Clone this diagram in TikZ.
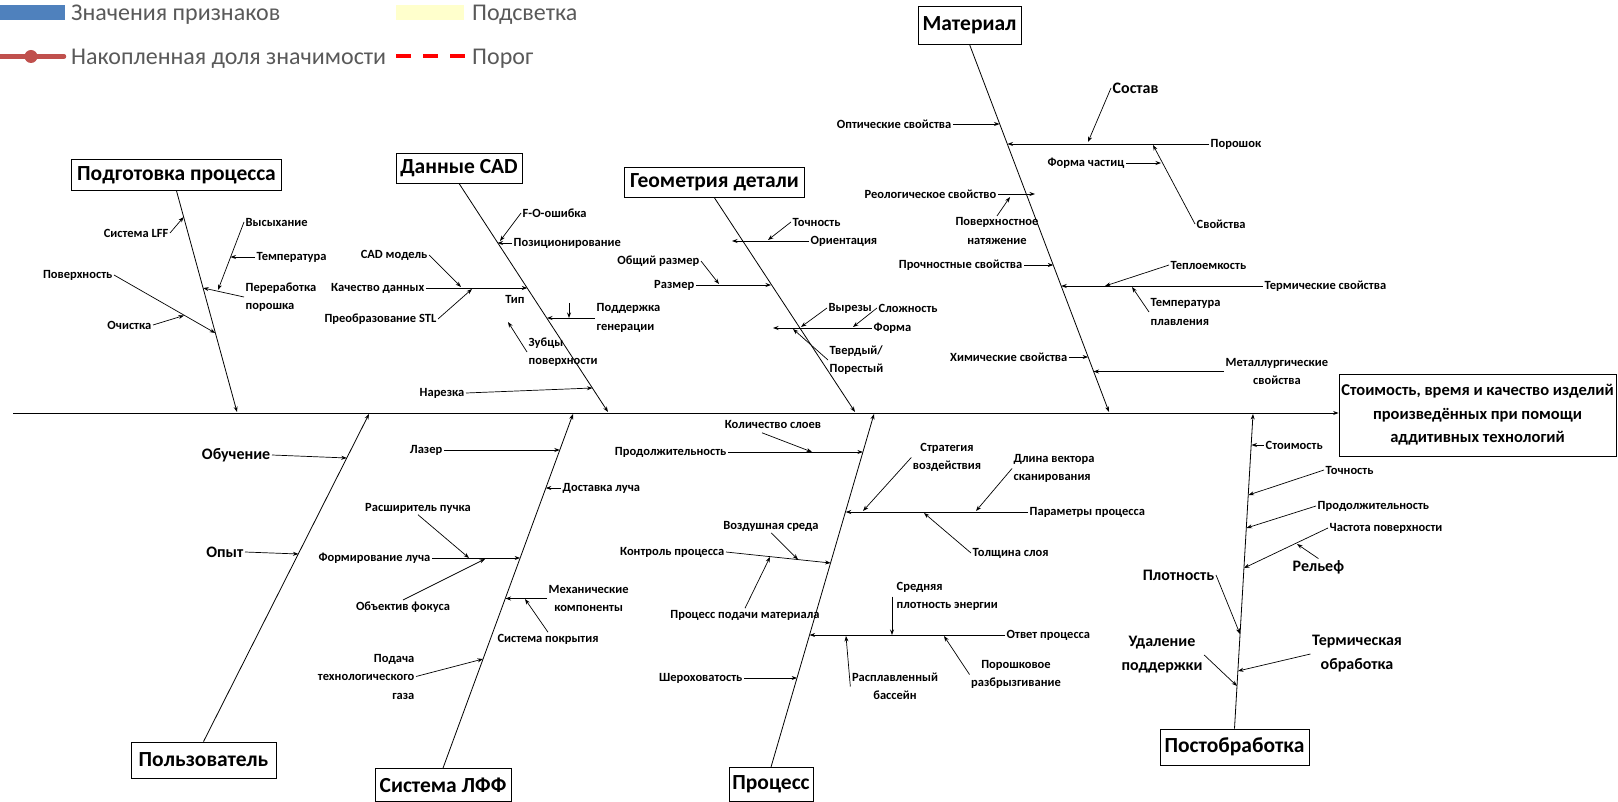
\documentclass[tikz,border=0pt]{standalone}
\usepackage{fontspec}
\setmainfont{Carlito}
\usetikzlibrary{arrows.meta,calc}
\definecolor{leggray}{RGB}{89,89,89}
\definecolor{legblue}{RGB}{79,129,189}
\definecolor{legyellow}{RGB}{255,255,204}
\definecolor{legred}{RGB}{192,80,77}
\definecolor{thrred}{RGB}{255,0,0}
\tikzset{
 lb/.style={font=\bfseries\fontsize{12.5}{18.5}\selectfont, inner sep=1.5pt, align=center},
 bg/.style={font=\bfseries\fontsize{16}{24}\selectfont, inner sep=1.5pt, align=center},
 cat/.style={draw, line width=0.8pt, font=\bfseries\fontsize{21.5}{25}\selectfont, inner sep=0pt},
 leg/.style={font=\fontsize{24}{28}\selectfont, text=leggray, inner sep=0pt},
 ar/.style={line width=0.7pt, -{Stealth[length=5.5pt,width=4pt]}},
 bone/.style={line width=0.8pt, -{Stealth[length=5.5pt,width=4pt]}},
}
\begin{document}
\begin{tikzpicture}[x=1pt,y=-1pt]
\useasboundingbox (0,0) rectangle (1618,802);
% legend
\fill[legblue] (0,5) rectangle (65,20);
\node[leg, anchor=west] (lg1) at (71,15) {Значения признаков};
\fill[legyellow] (396,5) rectangle (464,20);
\node[leg, anchor=west] (lg2) at (472,15) {Подсветка};
\draw[legred, line width=4.5pt, line cap=round] (0,56.5) -- (64,56.5);
\fill[legred] (31,56.5) circle (6.5);
\node[leg, anchor=west] (lg3) at (71,59) {Накопленная доля значимости};
\draw[thrred, line width=4pt, dash pattern=on 14.5pt off 12.5pt] (396,56.5) -- (465,56.5);
\node[leg, anchor=west] (lg4) at (472,59) {Порог};

% result and spine
\node[cat, minimum width=277, minimum height=82, align=center, font=\bfseries\fontsize{16.5}{23.5}\selectfont] (res) at (1477.5,415) {Стоимость, время и качество изделий\\произведённых при помощи\\аддитивных технологий};
\coordinate (sp0) at (13,413);
\draw[bone, line width=1pt] (sp0) -- (sp0 -| res.west);

% ---------- Подготовка процесса
\node[cat, minimum width=210, minimum height=31] (prep) at (176.5,175) {Подготовка процесса};
\coordinate (prepT) at (237,412);
\draw[bone] (prep.south) -- (prepT);
\node[lb, anchor=east] (lff) at (170,233) {Система LFF};
\draw[ar] (lff.east) -- (183.7,217);
\node[lb, anchor=west] (vys) at (244,222) {Высыхание};
\draw[ar] (vys.west) -- (218,290);
\node[lb, anchor=west] (temp) at (255,257) {Температура};
\draw[ar] (temp.west) -- (230.5,257);
\node[lb, anchor=west, align=left] (pere) at (244,297) {Переработка\\порошка};
\draw[ar] (pere.west) -- (203.2,288);
\node[lb, anchor=east] (pov) at (114,275) {Поверхность};
\draw[ar] (pov.east) -- (215.2,333);
\node[lb, anchor=east] (och) at (153,325) {Очистка};
\draw[ar] (och.east) -- (184,315.5);

% ---------- Данные CAD
\node[cat, minimum width=126, minimum height=30] (cad) at (459,168) {Данные CAD};
\coordinate (cadT) at (608,412);
\draw[bone] (cad.south) -- (cadT);
\node[lb, anchor=west] (fo) at (521,213) {F-O-ошибка};
\draw[ar] (fo.west) -- (500,241);
\node[lb, anchor=west] (posi) at (512,243) {Позиционирование};
\draw[ar] (posi.west) -- (497.5,243);
\node[lb, anchor=east] (cadm) at (429,255) {CAD модель};
\draw[ar] (cadm.east) -- (461,287);
\node[lb, anchor=east] (kach) at (426,288) {Качество данных};
\draw[ar] (kach.east) -- (527.3,288);
\node[lb] (tip) at (515,299) {Тип};
\node[lb, anchor=east] (stl) at (438,319) {Преобразование STL};
\draw[ar] (stl.east) -- (472,289);
\node[lb, anchor=west, align=left] (podd) at (595,318) {Поддержка\\генерации};
\draw[ar] (podd.west) -- (547,318);
\coordinate (podv) at (569,303);
\draw[ar] (podv) -- (podv |- podd.west);
\node[lb, anchor=west, align=left] (zub) at (527,352) {Зубцы\\поверхности};
\draw[ar] (zub.west) -- (508,322);
\node[lb, anchor=east] (nar) at (466,393) {Нарезка};
\draw[ar] (nar.east) -- (592.4,388);

% ---------- Геометрия детали
\node[cat, minimum width=180, minimum height=30] (geo) at (714.5,182.5) {Геометрия детали};
\coordinate (geoT) at (855,412);
\draw[bone] (geo.south) -- (geoT);
\node[lb, anchor=west] (toch) at (791,222) {Точность};
\draw[ar] (toch.west) -- (768,240);
\node[lb, anchor=west] (ori) at (809,241) {Ориентация};
\draw[ar] (ori.west) -- (732,241);
\node[lb, anchor=east] (obsh) at (701,261) {Общий размер};
\draw[ar] (obsh.east) -- (719,284);
\node[lb, anchor=east] (razm) at (696,285) {Размер};
\draw[ar] (razm.east) -- (771,285);
\node[lb, anchor=west] (vyr) at (827,308) {Вырезы};
\draw[ar] (vyr.west) -- (801,327);
\node[lb, anchor=west] (slo) at (877,308) {Сложность};
\draw[ar] (slo.west) -- (853,327);
\node[lb, anchor=west] (form) at (872,328) {Форма};
\draw[ar] (form.west) -- (773,328);
\node[lb, anchor=west, align=left] (tv) at (828,360) {Твердый/\\Порестый};
\draw[ar] (tv.west) -- (793,329);

% ---------- Материал
\node[cat, minimum width=103, minimum height=38] (mat) at (969.5,25) {Материал};
\coordinate (matT) at (1109,412);
\draw[bone] (mat.south) -- (matT);
\node[lb, anchor=east] (opt) at (953,124) {Оптические свойства};
\draw[ar] (opt.east) -- (999.5,124);
\node[bg, anchor=west] (sost) at (1111,88) {Состав};
\draw[ar] (sost.west) -- (1088,142);
\node[lb, anchor=west] (poro) at (1209,144) {Порошок};
\draw[ar] (poro.west) -- (1007.5,144);
\node[lb, anchor=east] (fch) at (1126,163) {Форма частиц};
\draw[ar] (fch.east) -- (1161,163);
\node[lb, anchor=west] (svo) at (1195,224) {Свойства};
\draw[ar] (svo.west) -- (1153,145);
\node[lb, anchor=east] (reo) at (998,194) {Реологическое свойство};
\draw[ar] (reo.east) -- (1035,194);
\node[lb] (pnat) at (997,231) {Поверхностное\\натяжение};
\draw[ar] (pnat.north) -- (1010,197);
\node[lb, anchor=east] (proch) at (1024,265) {Прочностные свойства};
\draw[ar] (proch.east) -- (1053.3,265);
\node[lb, anchor=west] (tep) at (1169,265) {Теплоемкость};
\draw[ar] (tep.west) -- (1105,286);
\node[lb, anchor=west] (term) at (1263,286) {Термические свойства};
\draw[ar] (term.west) -- (1061.2,286);
\node[lb, anchor=west, align=left] (tpl) at (1149,312) {Температура\\плавления};
\draw[ar] (tpl.west) -- (1132,287);
\node[lb, anchor=east] (him) at (1069,357) {Химические свойства};
\draw[ar] (him.east) -- (1088.1,357);
\node[lb, anchor=west] (met) at (1224,371.5) {Металлургические\\свойства};
\draw[ar] (met.west) -- (1093.5,371.5);

% ---------- Пользователь
\node[cat, minimum width=145, minimum height=36] (usr) at (203.5,760) {Пользователь};
\coordinate (usrT) at (369,414);
\draw[bone] (usr.north) -- (usrT);
\node[bg, anchor=east] (obu) at (272,455) {Обучение};
\draw[ar] (obu.east) -- (346.8,458);
\node[bg, anchor=east] (opy) at (245,552) {Опыт};
\draw[ar] (opy.east) -- (298.4,554);

% ---------- Система ЛФФ
\node[cat, minimum width=136, minimum height=33] (lffb) at (443,785) {Система ЛФФ};
\coordinate (lffT) at (573,414);
\draw[bone] (lffb.north) -- (lffT);
\node[lb, anchor=east] (las) at (444,450) {Лазер};
\draw[ar] (las.east) -- (559.8,450);
\node[lb, anchor=west] (dost) at (561,488) {Доставка луча};
\draw[ar] (dost.west) -- (545.8,488);
\node[lb] (rasp) at (418,508) {Расширитель пучка};
\draw[ar] (rasp.south) -- (469,558);
\node[lb, anchor=east] (fl) at (432,558) {Формирование луча};
\draw[ar] (fl.east) -- (520.1,558);
\node[lb] (obj) at (403,607) {Объектив фокуса};
\draw[ar] (obj.north) -- (485,559);
\node[lb, anchor=west] (mex) at (547,598.5) {Механические\\компоненты};
\draw[ar] (mex.west) -- (505.5,598.5);
\node[lb] (spok) at (548,639) {Система покрытия};
\draw[ar] (spok.north) -- (525,599);
\node[lb, anchor=east, align=right] (gaz) at (416,676.5) {Подача\\технологического\\газа};
\draw[ar] (gaz.east) -- (483,659);

% ---------- Процесс
\node[cat, minimum width=84, minimum height=34] (prc) at (771,784.5) {Процесс};
\coordinate (prcT) at (874,414);
\draw[bone] (prc.north) -- (prcT);
\node[lb] (kol) at (773,424) {Количество слоев};
\draw[ar] ($(kol.south)+(-11,3)$) -- (812,452);
\node[lb, anchor=east] (prod) at (728,452) {Продолжительность};
\draw[ar] (prod.east) -- (862.9,452);
\node[lb] (strat) at (947,457.5) {Стратегия\\воздействия};
\draw[ar] (strat.west) -- (863,511);
\node[lb, anchor=west, align=left] (dlina) at (1012,468.5) {Длина вектора\\сканирования};
\draw[ar] (dlina.west) -- (976,511);
\node[lb, anchor=west] (param) at (1028,512) {Параметры процесса};
\draw[ar] (param.west) -- (845.7,512);
\node[lb, anchor=west] (tol) at (971,553) {Толщина слоя};
\draw[ar] (tol.west) -- (924,513);
\node[lb] (vozd) at (771,526) {Воздушная среда};
\draw[ar] (vozd.south) -- (798,559.5);
\node[lb, anchor=east] (kontr) at (726,552) {Контроль процесса};
\draw[ar] (kontr.east) -- (830.6,563);
\node[lb] (podm) at (745,615) {Процесс подачи материала};
\draw[ar] (podm.north) -- (770,557);
\node[lb, anchor=west] (otv) at (1005,635) {Ответ процесса};
\draw[ar] (otv.west) -- (809.6,635);
\node[lb, anchor=west, align=left] (sred) at (895,596.5) {Средняя\\плотность энергии};
\draw[ar] ($(sred.west)+(-3,0)$) -- ($(sred.west |- otv.west)+(-3,0)$);
\node[lb] (rasb) at (895,686.5) {Расплавленный\\бассейн};
\draw[ar] (rasb.west) -- (846,636);
\node[lb] (porr) at (1016,674.5) {Порошковое\\разбрызгивание};
\draw[ar] (porr.west) -- (944,636);
\node[lb, anchor=east] (sher) at (744,678) {Шероховатость};
\draw[ar] (sher.east) -- (797.1,678);

% ---------- Постобработка
\node[cat, minimum width=149, minimum height=36] (pst) at (1234.5,747) {Постобработка};
\coordinate (pstT) at (1253,414);
\draw[bone] (pst.north) -- (pstT);
\node[lb, anchor=west] (sto) at (1264,445) {Стоимость};
\draw[ar] (sto.west) -- (1251.5,445);
\node[lb, anchor=west] (tch) at (1324,470) {Точность};
\draw[ar] (tch.west) -- (1248.5,495);
\node[lb, anchor=west] (prd2) at (1316,506) {Продолжительность};
\draw[ar] (prd2.west) -- (1246.5,528);
\node[lb, anchor=west] (chast) at (1328,528) {Частота поверхности};
\draw[ar] (chast.west) -- (1244,568);
\node[bg, anchor=west] (rel) at (1291,567) {Рельеф};
\draw[ar] (rel.north) -- (1297,544);
\node[bg, anchor=east] (plo) at (1216,575) {Плотность};
\draw[ar] (plo.east) -- (1240,634);
\node[bg] (udal) at (1162,655) {Удаление\\поддержки};
\draw[ar] (udal.east) -- (1237,686);
\node[bg] (term2) at (1357,654) {Термическая\\обработка};
\draw[ar] (term2.west) -- (1238,671);
\end{tikzpicture}
\end{document}
